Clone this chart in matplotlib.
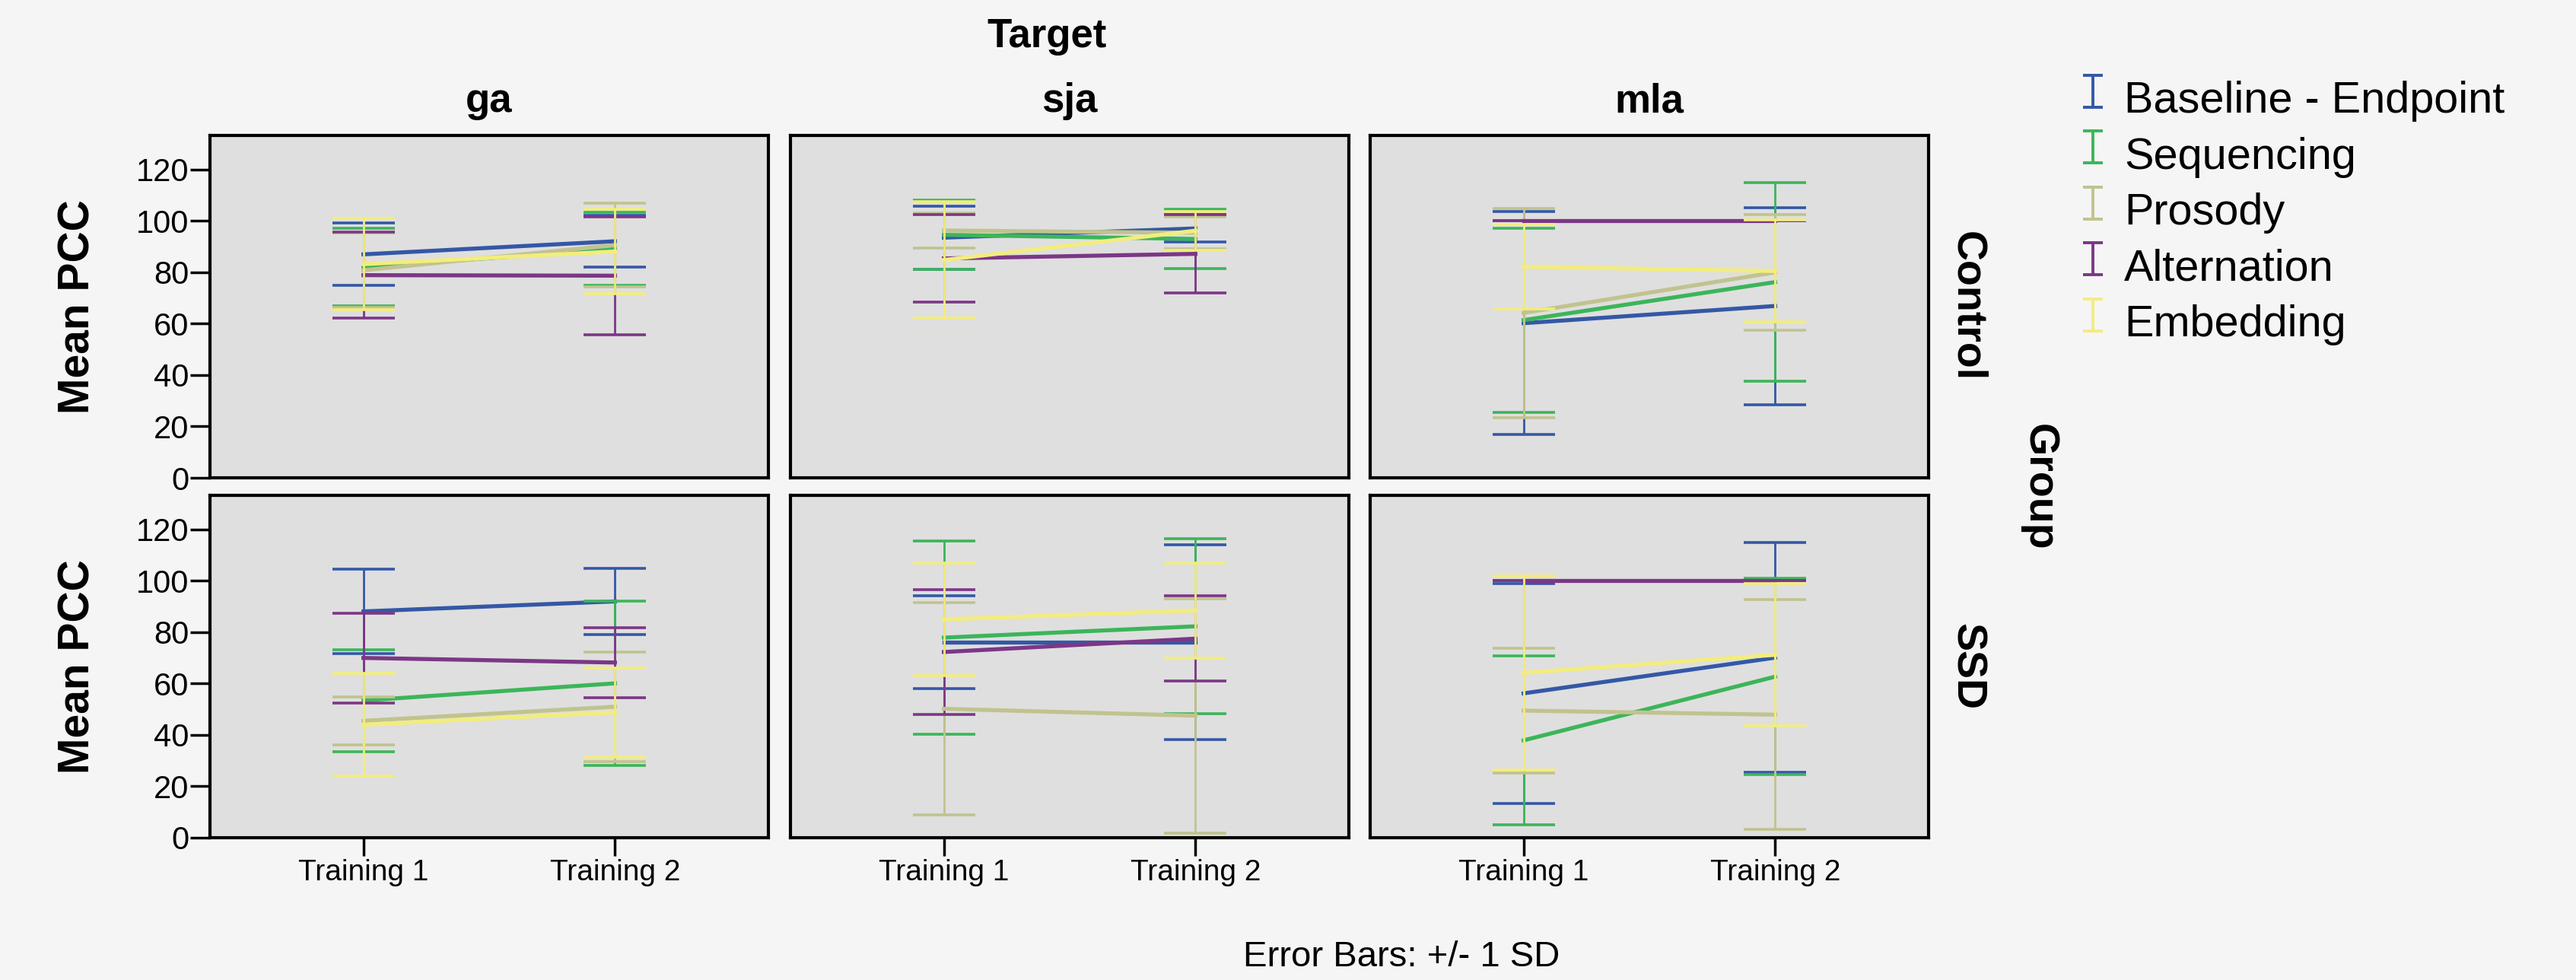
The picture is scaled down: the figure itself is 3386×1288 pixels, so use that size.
import numpy as np
import matplotlib
matplotlib.use("Agg")
import matplotlib.pyplot as plt
from matplotlib.path import Path
from matplotlib.lines import Line2D

plt.rcParams["font.family"] = ["Liberation Sans", "DejaVu Sans"]

# Categories
targets = ["ga", "sja", "mla"]
groups = ["Control", "SSD"]
sessions = ["Training 1", "Training 2"]
series = ["Baseline - Endpoint", "Sequencing", "Prosody", "Alternation", "Embedding"]
colors = ["#3458A6", "#3CB55A", "#C1C38F", "#7C3786", "#F2ED7E"]

# Mean PCC, [series][session] for each group / target
control_ga_mean = [[87.0, 92.1], [82.0, 89.1], [80.8, 90.6], [78.9, 78.7], [83.2, 88.1]]
control_ga_sd = [[12.1, 10.0], [15.2, 14.2], [14.5, 16.3], [16.8, 23.0], [17.8, 16.5]]
control_sja_mean = [[93.5, 97.1], [94.6, 93.0], [96.3, 95.4], [85.4, 87.2], [84.8, 96.2]]
control_sja_sd = [[12.2, 5.3], [13.5, 11.5], [6.7, 6.2], [17.0, 15.2], [22.7, 7.6]]
control_mla_mean = [[60.2, 66.9], [61.4, 76.2], [64.2, 80.0], [100.0, 100.0], [82.2, 80.5]]
control_mla_sd = [[43.4, 38.4], [35.8, 38.7], [40.8, 22.6], [0.0, 0.0], [16.3, 19.9]]

ssd_ga_mean = [[88.1, 92.0], [53.4, 60.1], [45.5, 51.0], [70.0, 68.2], [44.0, 48.8]]
ssd_ga_sd = [[16.4, 13.0], [19.9, 32.1], [9.3, 21.4], [17.5, 13.7], [20.1, 17.3]]
ssd_sja_mean = [[76.1, 76.1], [77.9, 82.3], [50.2, 47.5], [72.3, 77.5], [85.0, 88.5]]
ssd_sja_sd = [[18.1, 37.8], [37.7, 34.0], [41.2, 45.6], [24.2, 16.6], [22.0, 18.5]]
ssd_mla_mean = [[56.2, 70.1], [37.9, 62.7], [49.5, 47.9], [100.0, 100.0], [64.2, 71.2]]
ssd_mla_sd = [[42.8, 44.7], [32.9, 38.2], [24.2, 44.7], [0.0, 0.0], [37.7, 27.8]]

means = {
    ("Control", "ga"): control_ga_mean, ("Control", "sja"): control_sja_mean,
    ("Control", "mla"): control_mla_mean, ("SSD", "ga"): ssd_ga_mean,
    ("SSD", "sja"): ssd_sja_mean, ("SSD", "mla"): ssd_mla_mean,
}
sds = {
    ("Control", "ga"): control_ga_sd, ("Control", "sja"): control_sja_sd,
    ("Control", "mla"): control_mla_sd, ("SSD", "ga"): ssd_ga_sd,
    ("SSD", "sja"): ssd_sja_sd, ("SSD", "mla"): ssd_mla_sd,
}

W, H = 3387, 1288
BG = "#F5F5F5"
PANEL = "#DFDFDF"

fig = plt.figure(figsize=(W / 100, H / 100), dpi=100, facecolor=BG)

col_left = [276, 1039, 1801]
col_w = 734
row_top = [178, 651]
row_h = 450


def fx(px):
    return px / W


def fy(py):
    return 1 - py / H


x = np.arange(len(sessions))
for r, grp in enumerate(groups):
    for c, tgt in enumerate(targets):
        ax = fig.add_axes([fx(col_left[c]), fy(row_top[r] + row_h), col_w / W, row_h / H])
        ax.set_facecolor(PANEL)
        for k, name in enumerate(series):
            ax.errorbar(x, means[(grp, tgt)][k], yerr=sds[(grp, tgt)][k],
                        color=colors[k], lw=3.8, elinewidth=2.0,
                        capsize=29.7, capthick=2.6, zorder=2 + k * 0.1)
        ax.set_xlim(-0.61, 1.61)
        ax.set_ylim(0, 133.3)
        for s in ax.spines.values():
            s.set_linewidth(3)
            s.set_color("black")
        ax.set_yticks(np.arange(0, 121, 20))
        ax.set_xticks(x)
        ax.set_xticklabels(sessions)
        ax.tick_params(axis="y", labelsize=30, length=19, width=2.5, pad=1,
                       left=(c == 0), labelleft=(c == 0))
        ax.tick_params(axis="x", labelsize=28, length=17, width=2.5, pad=3,
                       bottom=(r == 1), labelbottom=(r == 1))
        if c == 0:
            fig.text(fx(103), fy(row_top[r] + row_h / 2), "Mean PCC", rotation=90,
                     ha="center", va="center", fontsize=41, fontweight="bold")
        if r == 0:
            fig.text(fx(col_left[c] + col_w / 2), fy(147), tgt, ha="center",
                     va="baseline", fontsize=38, fontweight="bold")
    fig.text(fx(2585), fy(row_top[r] + row_h / 2), grp, rotation=-90,
             ha="center", va="center", fontsize=40, fontweight="bold")

fig.text(fx(1376), fy(62), "Target", ha="center", va="baseline",
         fontsize=38, fontweight="bold")
fig.text(fx(2680), fy(640), "Group", rotation=-90, ha="center", va="center",
         fontsize=40, fontweight="bold")
fig.text(fx(1842), fy(1270), "Error Bars: +/- 1 SD", ha="center", va="baseline",
         fontsize=34)

# legend with error-bar shaped markers
ibar = Path([(-0.62, -1), (0.62, -1), (0, -1), (0, 1), (-0.62, 1), (0.62, 1)],
            [Path.MOVETO, Path.LINETO, Path.MOVETO, Path.LINETO, Path.MOVETO, Path.LINETO])
for k, name in enumerate(series):
    fig.add_artist(Line2D([fx(2751)], [fy(119.5 + k * 73.5)], marker=ibar,
                          linestyle="none", markersize=30, markerfacecolor="none",
                          markeredgecolor=colors[k], markeredgewidth=2.8))
    fig.text(fx(2792), fy(148.3 + k * 73.5), name, ha="left", va="baseline",
             fontsize=41.5)

fig.savefig("out.png", dpi=100, facecolor=BG)
